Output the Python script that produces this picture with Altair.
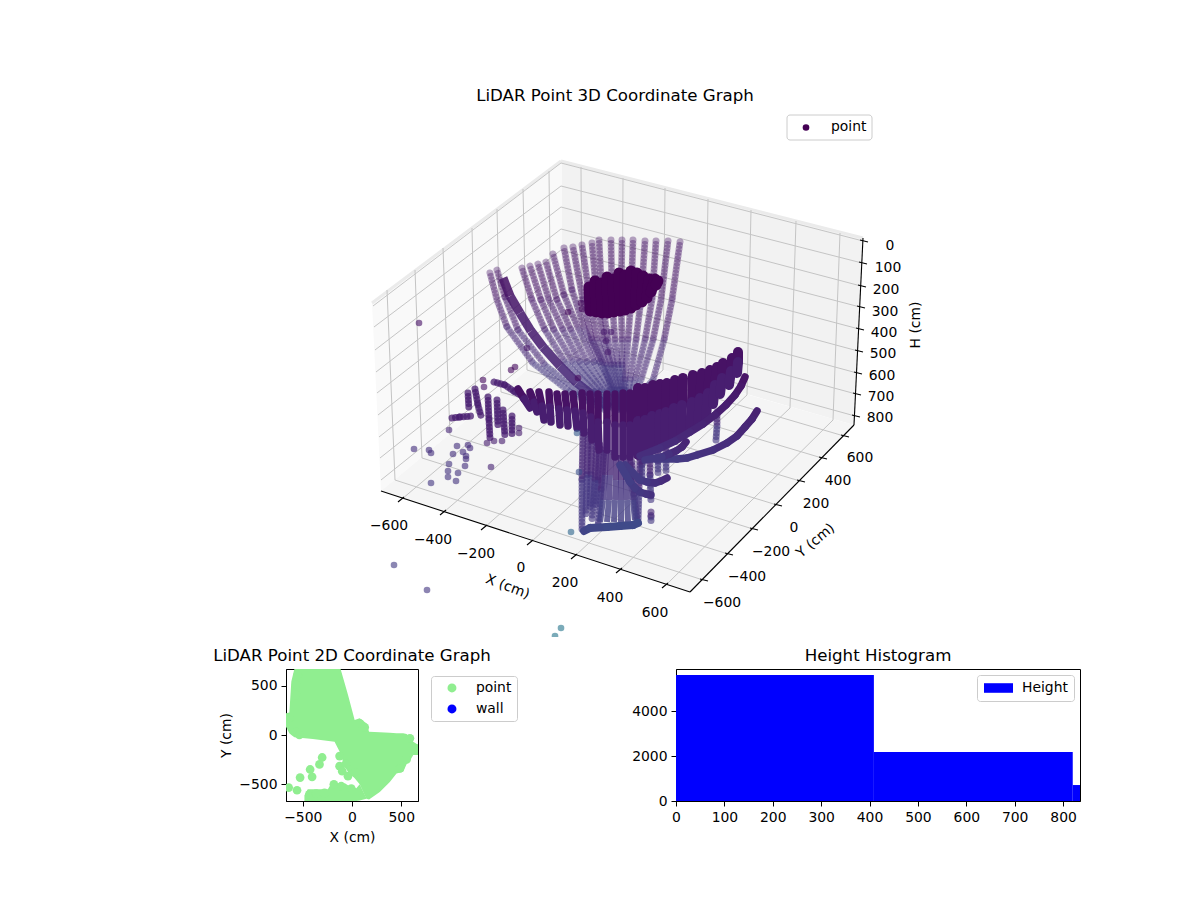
import pandas as pd
import altair as alt

FONT = "DejaVu Sans"

# ---- 3D panel, everything in view units
# panes (x, upper edge, lower edge)
left_wall_x, left_wall_top, left_wall_bot = [372, 381, 562], [303, 296, 161], [303, 491, 341]
back_wall_x, back_wall_top, back_wall_bot = [562, 854, 863], [161, 236, 238], [341, 425, 238]
floor_x, floor_top, floor_bot = [381, 562, 690, 854], [491, 341, 378, 425], [491, 550, 592, 425]

# grid anchor points
x_front_x = [402, 444, 485, 531, 575, 620, 666]
x_front_y = [499, 512, 527, 542, 556, 570, 585]
x_back_x = [582, 622, 663, 705, 747, 790, 833]
x_back_y = [347, 358, 370, 382, 395, 408, 420]
x_top_x = [581, 623, 665, 708, 751, 796, 840]
x_top_y = [167, 178, 188, 199, 210, 221, 233]
y_right_x = [703, 728, 753, 777, 800, 822, 844]
y_right_y = [580, 554, 529, 505, 481, 458, 436]
y_left_x = [395, 422, 450, 476, 501, 527, 551]
y_left_y = [480, 458, 435, 413, 392, 370, 350]
y_top_x = [387, 415, 443, 472, 497, 523, 549]
y_top_y = [290, 270, 248, 228, 209, 189, 171]
h_left_x = [373, 374, 375, 376, 377, 378, 379, 380, 381]
h_left_y = [306, 327, 350, 372, 393, 415, 437, 458, 480]
h_back_x = [561, 561, 561, 561, 561, 562, 562, 562, 562]
h_back_y = [163, 186, 207, 229, 250, 271, 293, 314, 335]
h_right_x = [863, 862, 861, 860, 859, 858, 857, 856, 855]
h_right_y = [241, 263, 286, 307, 329, 351, 373, 394, 416]

# tick labels
x_labels = ["\u2212600", "\u2212400", "\u2212200", "0", "200", "400", "600"]
x_label_x = [389, 433, 476, 521, 565, 610, 655]
x_label_y = [525, 539, 553, 567, 582, 597, 612]
y_labels = ["\u2212600", "\u2212400", "\u2212200", "0", "200", "400", "600"]
y_label_x = [722, 747, 771, 794, 816, 838, 860]
y_label_y = [602, 576, 551, 527, 503, 480, 457]
h_labels = ["0", "100", "200", "300", "400", "500", "600", "700", "800"]
h_label_x = [890, 888, 886, 885, 884, 883, 882, 881, 880]
h_label_y = [245, 267, 289, 311, 332, 353, 375, 396, 417]

# light arcs at the back
fan_x = [
    [490, 497, 507, 533, 570, 605], [497, 505, 518, 545, 580, 610],
    [522, 532, 545, 565, 595, 615], [530, 541, 554, 573, 600, 618],
    [538, 549, 563, 580, 604, 620], [546, 557, 571, 587, 608, 622],
    [553, 564, 579, 594, 612, 624], [564, 572, 585, 600, 615, 626],
    [573, 583, 592, 604, 612, 620], [582, 590, 597, 607, 615, 622],
    [592, 597, 603, 611, 618, 624], [599, 602, 608, 614, 620, 625],
    [611, 612, 615, 618, 622, 626], [622, 621, 622, 622, 624, 627],
    [633, 631, 628, 625, 626, 628], [645, 641, 636, 630, 628, 629],
    [656, 652, 645, 635, 631, 630], [668, 661, 653, 641, 634, 631],
    [680, 672, 664, 653, 640, 632],
]
fan_y = [
    [273, 300, 327, 363, 392, 410], [270, 297, 330, 365, 393, 410],
    [268, 300, 330, 362, 392, 410], [266, 300, 330, 362, 392, 410],
    [264, 300, 330, 362, 392, 410], [262, 300, 330, 362, 392, 410],
    [254, 295, 330, 362, 392, 410], [248, 290, 330, 362, 392, 410],
    [247, 300, 340, 365, 390, 410], [245, 300, 340, 365, 390, 410],
    [243, 300, 340, 365, 390, 410], [240, 300, 340, 365, 390, 410],
    [240, 300, 340, 365, 390, 410], [240, 300, 340, 365, 390, 410],
    [240, 300, 340, 380, 395, 410], [241, 300, 340, 380, 395, 410],
    [241, 300, 340, 380, 395, 410], [241, 300, 340, 380, 395, 410],
    [242, 300, 340, 380, 395, 410],
]
fan_v = [0.05, 0.07, 0.11, 0.16, 0.2, 0.22]

# the denser arc of the left group
thick_x = [[503, 510, 520, 531, 543, 560, 577, 595, 610]]
thick_y = [[278, 296, 313, 331, 347, 366, 383, 397, 408]]
thick_v = [0.05, 0.06, 0.07, 0.08, 0.09, 0.11, 0.13, 0.15]

# solid blob near the top
blob_x = [[589, 590], [595, 596], [601, 602], [607, 608], [613, 614], [619, 620], [625, 625],
          [631, 631], [637, 636], [643, 642], [649, 647], [655, 651], [658, 656]]
blob_y = [[287, 311], [281, 312], [283, 313], [277, 313], [279, 312], [273, 311], [275, 310],
          [271, 308], [273, 305], [276, 302], [279, 298], [279, 292], [281, 285]]
blob_v = [0.0, 0.005]

# dark band across the front, separate chains on the left
band_x = [[518, 524, 530], [530, 534, 537], [539, 542, 544], [549, 550, 551], [557, 559, 560], [565, 567, 568],
          [573, 575, 577], [582, 583, 584], [590, 591, 592], [598, 598, 599], [607, 607, 607], [615, 615, 615],
          [623, 623, 623], [630, 630, 630]]
band_y = [[389, 399, 408], [392, 402, 412], [392, 406, 420], [392, 407, 422], [394, 409, 425], [394, 410, 426],
          [394, 411, 428], [393, 413, 433], [394, 417, 440], [394, 422, 450], [394, 422, 450], [394, 425, 457],
          [393, 425, 457], [393, 425, 457]]
# same band on the right, where the chains merge
wing_x = [[638, 638, 638], [645, 645, 645], [653, 652, 652], [660, 660, 659], [667, 666, 665], [675, 674, 673],
          [683, 682, 681], [693, 692, 690], [702, 700, 698], [710, 708, 706], [717, 715, 713], [723, 722, 720],
          [732, 731, 729], [738, 738, 737]]
wing_y = [[388, 421, 455], [388, 420, 452], [385, 416, 448], [384, 414, 445], [383, 412, 441], [380, 408, 437],
          [378, 405, 433], [375, 402, 430], [373, 398, 424], [370, 393, 417], [367, 385, 404], [363, 378, 394],
          [358, 371, 385], [352, 362, 373]]
band_v = [0.045, 0.08]

# thick arcs on the right of the band
arc_x = [[745, 741, 735, 726, 715, 703, 690, 675, 660, 640],
         [757, 752, 745, 737, 727, 713, 697, 687, 677, 655],
         [686, 682, 676, 669, 662, 645], [667, 661, 655, 647, 640, 625], [651, 646, 640, 635, 630, 620]]
arc_y = [[377, 386, 395, 405, 415, 424, 432, 441, 448, 456],
         [411, 419, 427, 436, 443, 450, 455, 458, 459, 459],
         [442, 447, 451, 454, 457, 460], [478, 481, 483, 482, 480, 465], [495, 494, 492, 488, 482, 465]]
arc_v = [[0.05, 0.06, 0.07, 0.08, 0.09, 0.1, 0.11, 0.12, 0.13, 0.14],
         [0.09, 0.1, 0.11, 0.12, 0.13, 0.14, 0.15, 0.16, 0.17, 0.18],
         [0.1, 0.11, 0.12, 0.14, 0.16, 0.17], [0.12, 0.13, 0.14, 0.16, 0.17, 0.18], [0.14, 0.15, 0.16, 0.17, 0.18, 0.18]]

# dark stem in the middle of the column
stem_x = [[606, 605, 603, 600], [611, 610, 609, 607], [616, 616, 615, 614], [621, 621, 621, 621],
          [626, 626, 627, 628], [630, 631, 633, 635]]
stem_y = [[450, 475, 500, 522], [450, 475, 500, 522], [455, 480, 500, 522], [455, 480, 500, 522],
          [455, 480, 500, 522], [455, 480, 500, 520]]
stem_v = [0.11, 0.15, 0.18]

# beaded columns under the band
column_x = [[583, 582, 582], [588, 587, 586], [592, 591, 590], [597, 595, 592], [600, 598, 596],
            [604, 601, 598], [632, 634, 637], [640, 639, 638], [642, 642, 642], [650, 650, 651],
            [651, 651, 651], [658, 658, 658], [666, 666, 666], [717, 717, 716]]
column_y = [[430, 480, 530], [432, 475, 515], [435, 475, 510], [440, 480, 520], [445, 480, 505],
            [450, 490, 526], [462, 495, 522], [455, 490, 524], [450, 465, 480], [450, 475, 502],
            [512, 517, 522], [450, 462, 475], [448, 460, 473], [412, 426, 440]]
column_v = [0.11, 0.16, 0.2]

# bottom row of the column
row_x = [[584, 590, 607, 620, 633, 638]]
row_y = [[531, 528, 527, 526, 525, 523]]
row_v = [0.2, 0.21, 0.22, 0.22, 0.22, 0.21]

# short chains in the left cluster
left_x = [[494, 505, 515, 530], [468, 469], [475, 478, 481], [488, 489, 490], [497, 498],
          [503, 505], [512, 512], [452, 460, 472]]
left_y = [[382, 385, 392, 400], [393, 410], [389, 405, 416], [397, 420, 438], [400, 427],
          [410, 437], [416, 435], [418, 417, 416]]

# single points
stray_x = [414, 429, 431, 449, 457, 453, 468, 470, 463, 466, 466, 465, 491, 449, 448, 448, 458, 456,
           431, 483, 484, 511, 515, 487, 494, 502, 519, 519, 578, 577, 579, 571, 394, 427, 561, 555,
           419, 568, 581, 582, 604, 611, 606, 608, 527]
stray_y = [449, 450, 453, 430, 446, 454, 445, 448, 452, 456, 459, 466, 467, 464, 471, 477, 473, 481,
           483, 380, 387, 370, 367, 443, 441, 441, 428, 433, 378, 433, 472, 532, 565, 590, 628, 636,
           323, 312, 303, 309, 332, 332, 341, 352, 348]
stray_v = [0.14, 0.14, 0.14, 0.11, 0.14, 0.14, 0.13, 0.13, 0.14, 0.14, 0.14, 0.14, 0.1, 0.15, 0.15, 0.15, 0.15, 0.15,
           0.16, 0.03, 0.05, 0.03, 0.03, 0.08, 0.08, 0.08, 0.08, 0.08, 0.03, 0.28, 0.24, 0.33, 0.18, 0.16, 0.4, 0.4,
           0.05, 0.02, 0.02, 0.02, 0.07, 0.07, 0.07, 0.07, 0.06]

# ---- 2D panel
cover_x = [-670, -636, -616, -585, -398, -177, -116, -75, -41, 27, 78, 146, 173, 282, 384, 452, 520, 554, 588, 622, 673]
cover_top = [221, 228, 544, 670, 670, 670, 670, 527, 408, 153, 170, 119, 34, 27, 24, 17, 17, 10, -24, -68, -102]
cover_bot = [85, 17, 0, -24, -41, -68, -187, -323, -374, -440, -500, -646, -656, -578, -476, -391, -374, -296, -262, -204, -204]
lower_x = [-483, -449, -245, -211, -68, -41, 44, 78, 146]
lower_top = [-612, -551, -551, -493, -493, -510, -540, -500, -640]
lower_bot = [-670, -670, -670, -670, -670, -670, -670, -665, -646]
dots_x = [-303, -330, -425, -405, -527, -643, -558, -126, -99, -41, -126, -184, -109, -7, -432, -364, -279,
          78, 129, 486, 554, 588, 650, -568, -568, -551, -568, -636, -534, 30, -60]
dots_y = [-228, -299, -350, -425, -432, -534, -561, -316, -367, -418, -214, -500, -520, -544, -602, -595, -588,
          119, 78, -340, -248, -34, -136, 510, 408, 612, 34, 170, 0, -380, -290]

# ---- histogram
bin_left = [0, 409, 820]
bin_right = [409, 820, 835]
counts = [5600, 2180, 710]

# scales for the 3D panel
sx = alt.Scale(domain=[8, 1192], nice=False, zero=False)
sy = alt.Scale(domain=[637, 8], nice=False, zero=False)
shade = alt.Scale(scheme="viridis", domain=[0, 1])
X = alt.X("x:Q", scale=sx, axis=None)
Y = alt.Y("y:Q", scale=sy, axis=None)


def segments(xs, ys, vs):
    rows = []
    for a, b in zip(xs, ys):
        for i in range(len(a) - 1):
            rows.append({"x": a[i], "y": b[i], "x2": a[i + 1], "y2": b[i + 1], "v": vs[i]})
    return pd.DataFrame(rows)


def chain(xs, ys, vs, width, opacity, cap="round"):
    base = alt.Chart(segments(xs, ys, vs)).encode(x=X, y=Y, x2=alt.X2("x2"), y2=alt.Y2("y2"),
                                                  color=alt.Color("v:Q", scale=shade, legend=None))
    return [base.mark_rule(strokeWidth=width, strokeCap=cap, opacity=opacity)]


def beads(xs, ys, vs, width, opacity, step=7):
    # two dotted strokes half a step apart, so the dots overlap like the scatter markers do
    base = alt.Chart(segments(xs, ys, vs)).encode(x=X, y=Y, x2=alt.X2("x2"), y2=alt.Y2("y2"),
                                                  color=alt.Color("v:Q", scale=shade, legend=None))
    return [base.mark_rule(strokeWidth=width, strokeCap="round", strokeDash=[0.01, step], opacity=opacity),
            base.mark_rule(strokeWidth=width, strokeCap="round", strokeDash=[0.01, step],
                           strokeDashOffset=step / 2, opacity=opacity)]


def pane(xs, top, bot, color):
    df = pd.DataFrame({"x": xs, "y": top, "y2": bot})
    return alt.Chart(df).mark_area(color=color).encode(x=X, y=Y, y2=alt.Y2("y2"))


def lines(rows, color, width):
    return alt.Chart(pd.DataFrame(rows, columns=["x", "y", "x2", "y2"])).mark_rule(
        color=color, strokeWidth=width).encode(x=X, y=Y, x2=alt.X2("x2"), y2=alt.Y2("y2"))


def labels(texts, xs, ys, angle=0):
    df = pd.DataFrame({"t": texts, "x": xs, "y": ys})
    return alt.Chart(df).mark_text(font=FONT, fontSize=13.9, color="black", angle=angle, dy=1).encode(x=X, y=Y, text="t:N")


grid = []
for i in range(7):
    grid.append([x_front_x[i], x_front_y[i], x_back_x[i], x_back_y[i]])
    grid.append([x_back_x[i], x_back_y[i], x_top_x[i], x_top_y[i]])
    grid.append([y_right_x[i], y_right_y[i], y_left_x[i], y_left_y[i]])
    grid.append([y_left_x[i], y_left_y[i], y_top_x[i], y_top_y[i]])
for i in range(9):
    grid.append([h_left_x[i], h_left_y[i], h_back_x[i], h_back_y[i]])
    grid.append([h_back_x[i], h_back_y[i], h_right_x[i], h_right_y[i]])

ticks = []
for i in range(7):
    ticks.append([x_front_x[i] - 4, x_front_y[i] + 3, x_front_x[i] + 2, x_front_y[i] - 2])
    ticks.append([y_right_x[i] - 3, y_right_y[i] - 1, y_right_x[i] + 5, y_right_y[i] + 1])
for i in range(9):
    ticks.append([h_right_x[i] - 3, h_right_y[i] - 1, h_right_x[i] + 5, h_right_y[i] + 1])

edges = [[372, 303, 561, 161], [561, 161, 863, 238]]
spines = [[381, 491, 690, 592], [690, 592, 854, 425], [854, 425, 863, 238]]

layers = [
    pane(left_wall_x, left_wall_top, left_wall_bot, "#f9f9f9"),
    pane(back_wall_x, back_wall_top, back_wall_bot, "#f2f2f2"),
    pane(floor_x, floor_top, floor_bot, "#f5f5f5"),
    lines(edges, "#ebebeb", 3),
    lines(grid, "#c4c4c4", 1),
    lines(spines, "black", 1.1),
    lines(ticks, "black", 1.1),
    labels(x_labels, x_label_x, x_label_y),
    labels(y_labels, y_label_x, y_label_y),
    labels(h_labels, h_label_x, h_label_y),
    labels(["X (cm)"], [508], [586], 21),
    labels(["Y (cm)"], [815], [540], 320),
    labels(["H (cm)"], [915], [325], 270),
]
layers += beads(fan_x, fan_y, fan_v, 7, 0.38)
layers += chain(thick_x, thick_y, thick_v, 9, 0.88, "butt")
layers += chain(blob_x, blob_y, blob_v, 11, 1)
layers += beads(column_x, column_y, column_v, 7, 0.62)
layers += chain(stem_x, stem_y, stem_v, 6, 0.8, "butt")
layers += chain(row_x, row_y, row_v, 8, 1)
layers += beads(left_x, left_y, [0.08, 0.08, 0.08], 7, 0.75)
layers += chain(band_x, band_y, band_v, 7.5, 1)
layers += chain(wing_x, wing_y, band_v, 10, 1)
for i in range(len(arc_x)):
    layers += chain([arc_x[i]], [arc_y[i]], arc_v[i], 7.5, 1)

stray = pd.DataFrame({"x": stray_x, "y": stray_y, "v": stray_v})
layers.append(alt.Chart(stray).mark_circle(size=44, opacity=0.62, clip=True).encode(
    x=X, y=Y, color=alt.Color("v:Q", scale=shade, legend=None)))

# title and legend box of the 3D panel
layers.append(alt.Chart(pd.DataFrame({"x": [787], "x2": [872], "y": [115], "y2": [140]})).mark_rect(
    fill="white", stroke="#cccccc", cornerRadius=3).encode(x=X, y=Y, x2=alt.X2("x2"), y2=alt.Y2("y2")))
layers.append(alt.Chart(pd.DataFrame({"x": [806], "y": [127.5]})).mark_circle(size=44, color="#440154", opacity=1).encode(x=X, y=Y))
layers.append(alt.Chart(pd.DataFrame({"t": ["point"], "x": [831], "y": [127]})).mark_text(
    font=FONT, fontSize=13.9, color="black", align="left").encode(x=X, y=Y, text="t:N"))
layers.append(alt.Chart(pd.DataFrame({"t": ["LiDAR Point 3D Coordinate Graph"], "x": [615], "y": [96]})).mark_text(
    font=FONT, fontSize=16.67, color="black").encode(x=X, y=Y, text="t:N"))

top = alt.layer(*layers).properties(width=1184, height=629)

# ---- 2D panel
sxy = alt.Scale(domain=[-670, 670], nice=False, zero=False)
X2D = alt.X("x:Q", scale=sxy, title="X (cm)", axis=alt.Axis(values=[-500, 0, 500], grid=False, labelFlush=False))
Y2D = alt.Y("y:Q", scale=sxy, title="Y (cm)", axis=alt.Axis(values=[-500, 0, 500], grid=False, labelFlush=False, titlePadding=5))

cover = alt.Chart(pd.DataFrame({"x": cover_x, "y": cover_top, "y2": cover_bot})).mark_area(
    color="#90EE90", clip=True).encode(x=X2D, y=Y2D, y2=alt.Y2("y2"))
lower = alt.Chart(pd.DataFrame({"x": lower_x, "y": lower_top, "y2": lower_bot})).mark_area(
    color="#90EE90", clip=True).encode(x=X2D, y=Y2D, y2=alt.Y2("y2"))
dots = alt.Chart(pd.DataFrame({"x": dots_x, "y": dots_y, "kind": "point"})).mark_circle(
    size=76, opacity=1, clip=True).encode(
    x=X2D, y=Y2D,
    color=alt.Color("kind:N", scale=alt.Scale(domain=["point", "wall"], range=["#90EE90", "blue"]),
                    legend=alt.Legend(orient="none", legendX=145, legendY=7, title=None, fillColor="white",
                                      strokeColor="#cccccc", cornerRadius=3, padding=5, symbolSize=80,
                                      symbolType="circle", symbolOpacity=1, symbolOffset=9, labelFontSize=13.9,
                                      labelFont=FONT, labelOffset=17, rowPadding=6)))
plot2d = alt.layer(cover, lower, dots).properties(
    width=132, height=132, title="LiDAR Point 2D Coordinate Graph", view=alt.ViewConfig(stroke="black"))

# ---- histogram
hist_df = pd.DataFrame({"left": bin_left, "right": bin_right, "count": counts, "name": "Height"})
hist = alt.Chart(hist_df).mark_rect().encode(
    x=alt.X("left:Q", scale=alt.Scale(domain=[0, 835], nice=False), title=None,
            axis=alt.Axis(values=[0, 100, 200, 300, 400, 500, 600, 700, 800], grid=False, labelFlush=False)),
    x2=alt.X2("right"),
    y=alt.Y("count:Q", scale=alt.Scale(domain=[0, 5870], nice=False), title=None,
            axis=alt.Axis(values=[0, 2000, 4000], format="d", grid=False, labelFlush=False)),
    color=alt.Color("name:N", scale=alt.Scale(domain=["Height"], range=["blue"]),
                    legend=alt.Legend(orient="none", legendX=301, legendY=6, title=None, fillColor="white",
                                      strokeColor="#cccccc", cornerRadius=3, padding=6, clipHeight=14,
                                      symbolType="M-1,-0.33H1V0.33H-1Z", symbolSize=841, symbolOpacity=1,
                                      labelFontSize=13.9, labelFont=FONT, labelOffset=8)),
).properties(width=404, height=132, title="Height Histogram", view=alt.ViewConfig(stroke="black"))

spacer = alt.Chart(pd.DataFrame({"x": [0]})).mark_point(opacity=0).encode(
    x=alt.X("x:Q", axis=None)).properties(width=20, height=132)

bottom = alt.hconcat(spacer, plot2d, hist, spacing=258, bounds="flush").resolve_scale(color="independent")

chart = alt.vconcat(top, bottom, spacing=32, bounds="flush").resolve_scale(color="independent").properties(
    padding=0
).configure_view(
    stroke=None
).configure_axis(
    labelFont=FONT, titleFont=FONT, labelFontSize=13.9, titleFontSize=13.9, titleFontWeight="normal",
    labelColor="black", titleColor="black", domainColor="black", tickColor="black", tickSize=5,
    labelPadding=4, titlePadding=7
).configure_title(font=FONT, fontSize=16.67, fontWeight="normal", color="black", offset=4)

chart.save("out.html", embed_options={"renderer": "svg", "actions": False})
